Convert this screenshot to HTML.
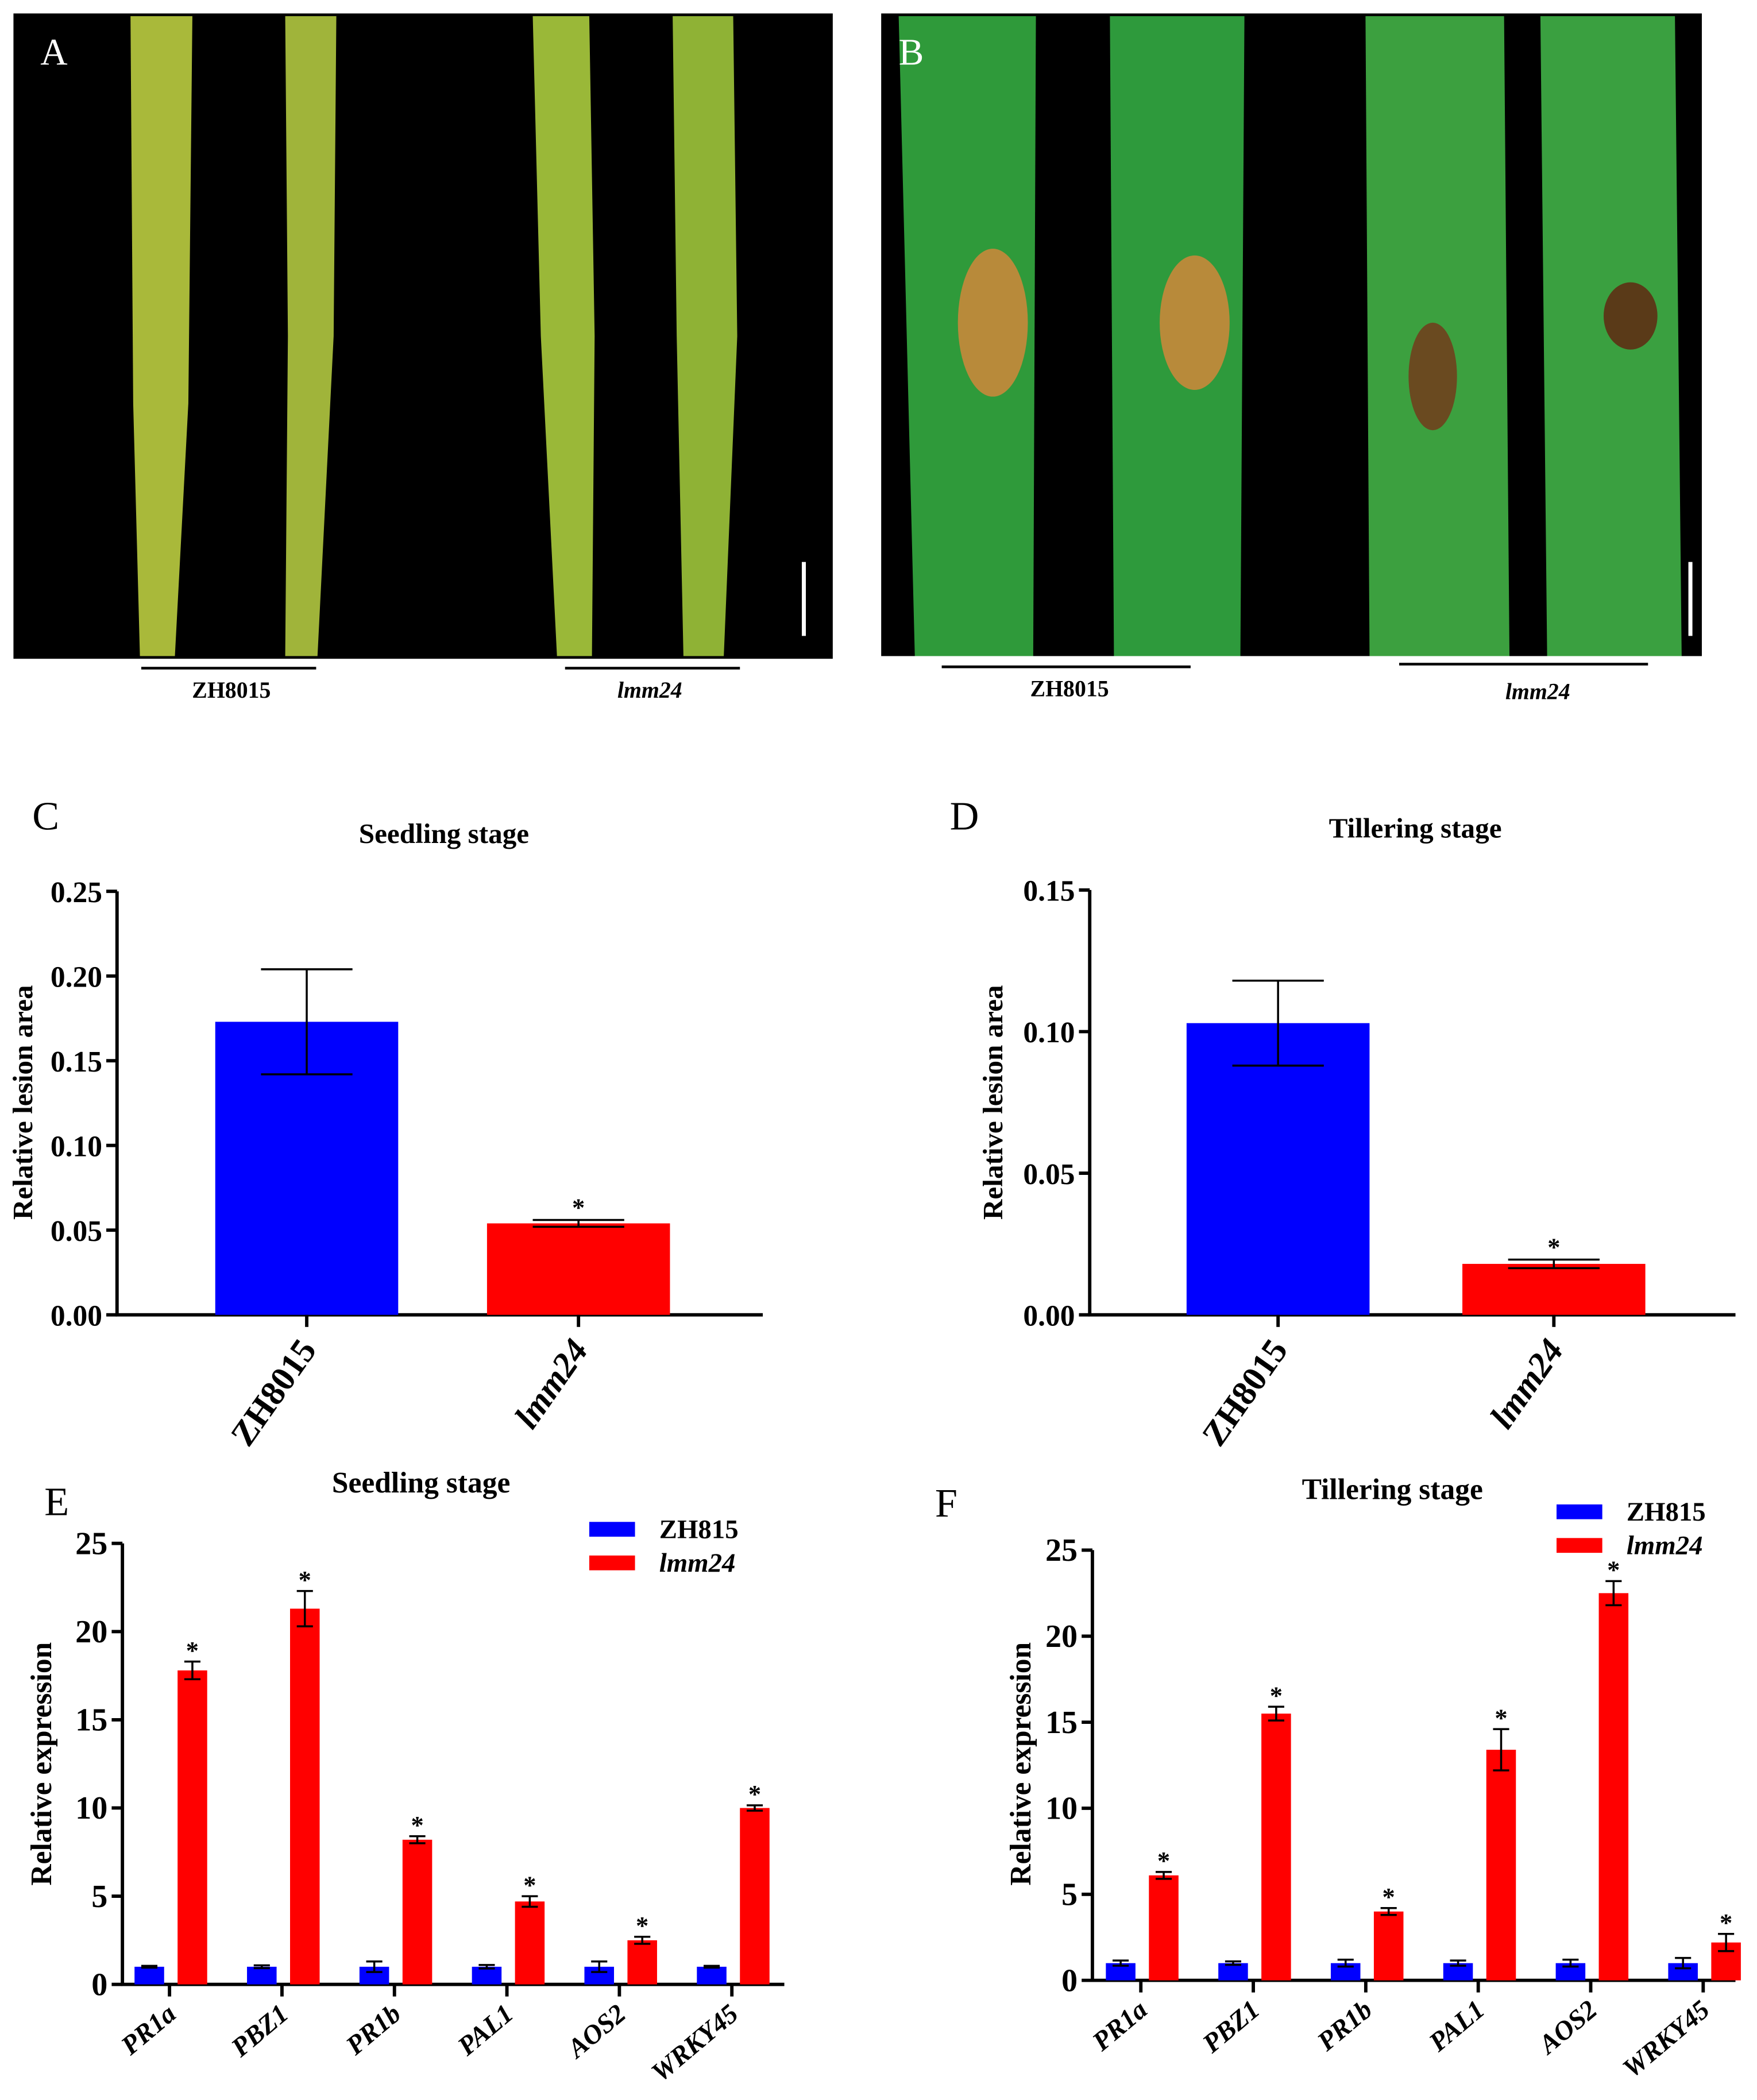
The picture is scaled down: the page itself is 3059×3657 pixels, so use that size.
<!DOCTYPE html>
<html><head><meta charset="utf-8">
<style>
html,body{margin:0;padding:0;background:#fff;}
svg{display:block;}
text{font-family:"Liberation Serif",serif;font-weight:bold;fill:#000;}
</style></head>
<body>
<svg id="fig" width="3059" height="3657" viewBox="0 0 1306 1562" preserveAspectRatio="none" xmlns="http://www.w3.org/2000/svg">
<rect width="1306" height="1562" fill="#fff"/>
<g>
<rect x="10" y="10" width="609" height="480" fill="#000"/>
<polygon points="97,12 143,12 140,300 130,488 104,488 99,300" fill="#a9b93a"/>
<polygon points="212,12 250,12 248,250 236,488 212,488 214,250" fill="#a0b43a"/>
<polygon points="396,12 438,12 442,250 440,488 414,488 402,250" fill="#9ab838"/>
<polygon points="500,12 545,12 548,250 538,488 508,488 503,250" fill="#8fb235"/>
<rect x="596" y="418" width="3" height="55" fill="#fff"/>
<text x="30" y="48" font-size="28" style="font-weight:normal;fill:#fff">A</text>
</g>
<g>
<rect x="655" y="10" width="610" height="478" fill="#000"/>
<polygon points="668,12 770,12 768,488 680,488" fill="#2f9a3a"/>
<polygon points="825,12 925,12 922,488 828,488" fill="#2e9a3c"/>
<polygon points="1015,12 1118,12 1122,488 1018,488" fill="#3ca03f"/>
<polygon points="1145,12 1245,12 1250,488 1150,488" fill="#3aa040"/>
<ellipse cx="738" cy="240" rx="26" ry="55" fill="#b88a3a"/>
<ellipse cx="888" cy="240" rx="26" ry="50" fill="#b88a3a"/>
<ellipse cx="1065" cy="280" rx="18" ry="40" fill="#6a4a20"/>
<ellipse cx="1212" cy="235" rx="20" ry="25" fill="#5a3a18"/>
<rect x="1255" y="418" width="3" height="55" fill="#fff"/>
<text x="668" y="48" font-size="28" style="font-weight:normal;fill:#fff">B</text>
</g>
<line x1="105" y1="497" x2="235" y2="497" stroke="#000" stroke-width="2"/>
<line x1="420" y1="497" x2="550" y2="497" stroke="#000" stroke-width="2"/>
<line x1="700" y1="496" x2="885" y2="496" stroke="#000" stroke-width="2"/>
<line x1="1040" y1="494" x2="1225" y2="494" stroke="#000" stroke-width="2"/>
<text x="172" y="519" font-size="17" text-anchor="middle">ZH8015</text>
<text x="483" y="519" font-size="17" text-anchor="middle" font-style="italic">lmm24</text>
<text x="795" y="518" font-size="17" text-anchor="middle">ZH8015</text>
<text x="1143" y="520" font-size="17" text-anchor="middle" font-style="italic">lmm24</text>
<g id="charts"></g>
</svg>
<script>
// Chart C data
const cCats = ["ZH8015", "lmm24"];
const cVals = [0.173, 0.054];
const cErr = [0.031, 0.002];
const cTicks = [0, 0.05, 0.10, 0.15, 0.20, 0.25];
// Chart D data
const dCats = ["ZH8015", "lmm24"];
const dVals = [0.103, 0.018];
const dErr = [0.015, 0.0015];
const dTicks = [0, 0.05, 0.10, 0.15];
// Chart E data
const eGenes = ["PR1a", "PBZ1", "PR1b", "PAL1", "AOS2", "WRKY45"];
const eBlue = [1, 1, 1, 1, 1, 1];
const eBlueErr = [0.05, 0.08, 0.3, 0.1, 0.3, 0.05];
const eRed = [17.8, 21.3, 8.2, 4.7, 2.5, 10.0];
const eRedErr = [0.5, 1.0, 0.2, 0.3, 0.2, 0.15];
const eTicks = [0, 5, 10, 15, 20, 25];
// Chart F data
const fGenes = ["PR1a", "PBZ1", "PR1b", "PAL1", "AOS2", "WRKY45"];
const fBlue = [1, 1, 1, 1, 1, 1];
const fBlueErr = [0.15, 0.1, 0.2, 0.15, 0.2, 0.3];
const fRed = [6.1, 15.5, 4.0, 13.4, 22.5, 2.2];
const fRedErr = [0.2, 0.4, 0.2, 1.2, 0.7, 0.5];
const fTicks = [0, 5, 10, 15, 20, 25];

const NS = "http://www.w3.org/2000/svg";
const root = document.getElementById("charts");
function mk(tag, attrs, parent, txt) {
  const e = document.createElementNS(NS, tag);
  for (const k in attrs) e.setAttribute(k, attrs[k]);
  if (txt !== undefined) e.textContent = txt;
  (parent || root).appendChild(e);
  return e;
}
function errBar(g, x, y0, y1, w) {
  const a = mk("line", {x1: x, x2: x, y1: y0, y2: y1, stroke: "#000", "stroke-width": 1.5}, g);
  
  
  mk("line", {x1: x - w, x2: x + w, y1: y0, y2: y0, stroke: "#000", "stroke-width": 1.5}, g);
  mk("line", {x1: x - w, x2: x + w, y1: y1, y2: y1, stroke: "#000", "stroke-width": 1.5}, g);
}
function axesY(g, ax, y0, yTop, max, ticks, x1, fmt, fs) {
  const Y = v => y0 - (v / max) * (y0 - yTop);
  mk("line", {x1: ax, x2: ax, y1: yTop, y2: y0 + 1, stroke: "#000", "stroke-width": 2.5}, g);
  mk("line", {x1: ax - 1, x2: x1, y1: y0, y2: y0, stroke: "#000", "stroke-width": 2.5}, g);
  ticks.forEach(t => {
    mk("line", {x1: ax - 8, x2: ax, y1: Y(t), y2: Y(t), stroke: "#000", "stroke-width": 2.5}, g);
    const tl = mk("text", {x: ax - 11, y: Y(t) + 8, "font-size": fs, "text-anchor": "end"}, g, fmt(t));
    
    
  });
  return Y;
}
function lesion(cfg) {
  const g = mk("g", {});
  
  
  const Y = axesY(g, cfg.ax, cfg.y0, cfg.yTop, cfg.max, cfg.ticks, cfg.x1, t => t.toFixed(2), 22);
  cfg.cats.forEach((c, i) => {
    const cx = cfg.cx[i];
    const b = mk("rect", {x: cx - 68, y: Y(cfg.vals[i]), width: 136, height: cfg.y0 - Y(cfg.vals[i]), fill: i ? "#ff0000" : "#0000ff"}, g);
    
    
    errBar(g, cx, Y(cfg.vals[i] + cfg.err[i]), Y(cfg.vals[i] - cfg.err[i]), 34);
    mk("line", {x1: cx, x2: cx, y1: cfg.y0, y2: cfg.y0 + 9, stroke: "#000", "stroke-width": 2.5}, g);
    const xl = mk("text", {x: cx + 8, y: cfg.y0 + 26, "font-size": 26, "text-anchor": "end", transform: `rotate(-55 ${cx + 8} ${cfg.y0 + 26})`, "font-style": i ? "italic" : "normal"}, g, c);
    
    
    if (i) mk("text", {x: cx, y: Y(cfg.vals[i] + cfg.err[i]) - 3, "font-size": 19, "text-anchor": "middle"}, g, "*");
  });
  const t = mk("text", {x: cfg.tx, y: cfg.ty, "font-size": 21, "text-anchor": "middle"}, g, cfg.title);
  
  
  const yl = mk("text", {x: cfg.ylx, y: cfg.yly, "font-size": 21, "text-anchor": "middle", transform: `rotate(-90 ${cfg.ylx} ${cfg.yly})`}, g, "Relative lesion area");
  
  
  const pl = mk("text", {x: cfg.px, y: cfg.py, "font-size": 30, style: "font-weight:normal"}, g, cfg.letter);
  
  
}
lesion({name: "chart-c", ax: 87, y0: 978, yTop: 663, max: 0.25, ticks: cTicks, x1: 567, cats: cCats, vals: cVals, err: cErr, cx: [228, 430],
  title: "Seedling stage", tx: 330, ty: 627, ylx: 24, yly: 820, letter: "C", px: 24, py: 617});
lesion({name: "chart-d", ax: 810, y0: 978, yTop: 662, max: 0.15, ticks: dTicks, x1: 1290, cats: dCats, vals: dVals, err: dErr, cx: [950, 1155],
  title: "Tillering stage", tx: 1052, ty: 623, ylx: 745, yly: 820, letter: "D", px: 706, py: 617});
function expr(cfg) {
  const g = mk("g", {});
  
  
  const Y = axesY(g, cfg.ax, cfg.y0, cfg.yTop, 25, cfg.ticks, cfg.x1, t => String(t), 24);
  cfg.genes.forEach((gn, i) => {
    const c = cfg.c0 + i * 83.6;
    const bb = mk("rect", {x: c - 26, y: Y(cfg.blue[i]), width: 22, height: cfg.y0 - Y(cfg.blue[i]), fill: "#0000ff"}, g);
    
    
    errBar(g, c - 15, Y(cfg.blue[i] + cfg.blueErr[i]), Y(cfg.blue[i] - cfg.blueErr[i]), 6);
    const rb = mk("rect", {x: c + 6, y: Y(cfg.red[i]), width: 22, height: cfg.y0 - Y(cfg.red[i]), fill: "#ff0000"}, g);
    
    
    errBar(g, c + 17, Y(cfg.red[i] + cfg.redErr[i]), Y(cfg.red[i] - cfg.redErr[i]), 6);
    mk("text", {x: c + 17, y: Y(cfg.red[i] + cfg.redErr[i]) - 2, "font-size": 19, "text-anchor": "middle"}, g, "*");
    mk("line", {x1: c, x2: c, y1: cfg.y0, y2: cfg.y0 + 9, stroke: "#000", "stroke-width": 2.5}, g);
    const xl = mk("text", {x: c + 6, y: cfg.y0 + 24, "font-size": 20, "text-anchor": "end", "font-style": "italic", transform: `rotate(-40 ${c + 6} ${cfg.y0 + 24})`}, g, gn);
    
    
  });
  const t = mk("text", {x: cfg.tx, y: cfg.ty, "font-size": 22, "text-anchor": "middle"}, g, cfg.title);
  
  
  const yl = mk("text", {x: cfg.ylx, y: 1312, "font-size": 22, "text-anchor": "middle", transform: `rotate(-90 ${cfg.ylx} 1312)`}, g, "Relative expression");
  
  
  const pl = mk("text", {x: cfg.px, y: cfg.py, "font-size": 30, style: "font-weight:normal"}, g, cfg.letter);
  
  
  const l1 = mk("rect", {x: cfg.lx, y: cfg.ly, width: 34, height: 11, fill: "#0000ff"}, g);
  
  
  mk("text", {x: cfg.lx + 52, y: cfg.ly + 12, "font-size": 20}, g, "ZH815");
  const l2 = mk("rect", {x: cfg.lx, y: cfg.ly + 25, width: 34, height: 11, fill: "#ff0000"}, g);
  
  
  mk("text", {x: cfg.lx + 52, y: cfg.ly + 37, "font-size": 20, "font-style": "italic"}, g, "lmm24");
}
expr({name: "chart-e", ax: 91, y0: 1476, yTop: 1148, x1: 583, genes: eGenes, blue: eBlue, blueErr: eBlueErr, red: eRed, redErr: eRedErr, ticks: eTicks, c0: 126,
  title: "Seedling stage", tx: 313, ty: 1110, ylx: 38, letter: "E", px: 33, py: 1127, lx: 438, ly: 1132});
expr({name: "chart-f", ax: 812, y0: 1473, yTop: 1153, x1: 1290, genes: fGenes, blue: fBlue, blueErr: fBlueErr, red: fRed, redErr: fRedErr, ticks: fTicks, c0: 848,
  title: "Tillering stage", tx: 1035, ty: 1115, ylx: 766, letter: "F", px: 695, py: 1128, lx: 1157, ly: 1119});
</script>
</body></html>
